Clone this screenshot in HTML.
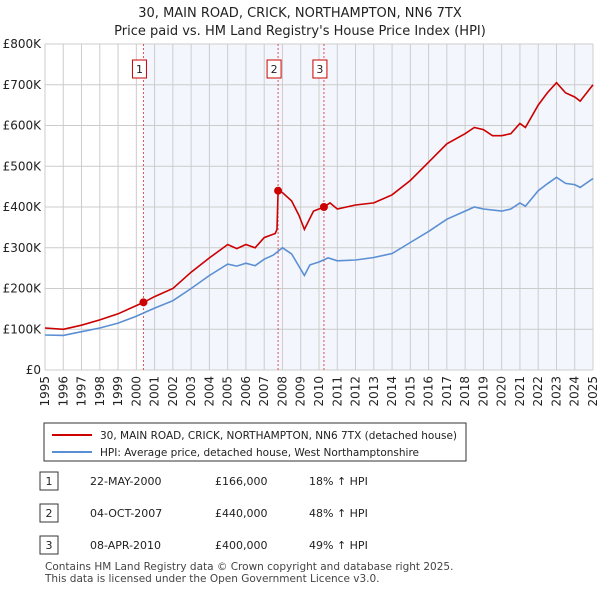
<!DOCTYPE html>
<html><head><meta charset="utf-8"><style>
body{margin:0;background:#fff;font-family:"Liberation Sans","DejaVu Sans",sans-serif;}
#wrap{position:relative;width:600px;height:590px;overflow:hidden;}
svg text{font-family:"DejaVu Sans","Liberation Sans",sans-serif;}
</style></head><body><div id="wrap">
<svg id="c" width="600" height="590">
<text x="300" y="17" text-anchor="middle" font-size="13" fill="#222">30, MAIN ROAD, CRICK, NORTHAMPTON, NN6 7TX</text>
<text x="300" y="35" text-anchor="middle" font-size="13" fill="#222">Price paid vs. HM Land Registry's House Price Index (HPI)</text>
<g id="plot"></g>
<rect x="44" y="423" width="422" height="38" fill="#fff" stroke="#333"/>
<line x1="52" y1="435" x2="92" y2="435" stroke="#cc0000" stroke-width="2"/>
<text x="100" y="439" font-size="10.5" fill="#222">30, MAIN ROAD, CRICK, NORTHAMPTON, NN6 7TX (detached house)</text>
<line x1="52" y1="452" x2="92" y2="452" stroke="#5b8fd4" stroke-width="2"/>
<text x="100" y="456" font-size="10.5" fill="#222">HPI: Average price, detached house, West Northamptonshire</text>
<g id="tbl" font-size="11" fill="#222"></g>
<text x="45" y="570" font-size="10.5" fill="#444">Contains HM Land Registry data © Crown copyright and database right 2025.</text>
<text x="45" y="582" font-size="10.5" fill="#444">This data is licensed under the Open Government Licence v3.0.</text>
</svg>
<script>
const hpiT=[1995,1996,1997,1998,1999,2000,2000.5,2001,2002,2003,2004,2005,2005.5,2006,2006.5,2007,2007.5,2008,2008.5,2009.2,2009.5,2010,2010.5,2011,2012,2013,2014,2015,2016,2017,2018,2018.5,2019,2020,2020.5,2021,2021.3,2022,2022.5,2023,2023.5,2024,2024.3,2025];
const hpiV=[86,85,94,103,115,132,142,152,170,200,232,260,255,262,256,272,282,300,285,232,258,265,275,268,270,276,286,313,340,370,390,400,395,390,395,410,402,440,457,473,458,455,448,470];
const redT=[1995,1996,1997,1998,1999,2000,2000.39,2001,2002,2003,2004,2005,2005.5,2006,2006.5,2007,2007.6,2007.7,2007.76,2008,2008.5,2008.9,2009.2,2009.7,2010.27,2010.6,2011,2012,2013,2014,2015,2016,2017,2018,2018.5,2019,2019.5,2020,2020.5,2021,2021.3,2022,2022.5,2023,2023.5,2024,2024.3,2025];
const redV=[103,100,110,123,138,158,166,180,200,240,275,308,298,308,300,325,335,345,440,435,415,380,345,390,400,410,395,405,410,430,465,510,555,580,595,590,575,575,580,605,595,650,680,705,680,670,660,700];
const saleT=[2000.39,2007.76,2010.27];
const saleV=[166,440,400];
const saleLabels=["1","2","3"];
const saleDates=["22-MAY-2000","04-OCT-2007","08-APR-2010"];
const salePrices=["£166,000","£440,000","£400,000"];
const saleHpi=["18% ↑ HPI","48% ↑ HPI","49% ↑ HPI"];
const yTicks=[0,100,200,300,400,500,600,700,800];
const yLabels=["£0","£100K","£200K","£300K","£400K","£500K","£600K","£700K","£800K"];
const years=[];for(let y=1995;y<=2025;y++)years.push(y);
const X0=45,X1=593,Y0=370,Y1=44;
const sx=t=>X0+(t-1995)*(X1-X0)/30;
const sy=v=>Y0-(v)*(Y0-Y1)/800;
const NS="http://www.w3.org/2000/svg";
const g=document.getElementById('plot');
function mk(tag,at,p){const e=document.createElementNS(NS,tag);for(const k in at)e.setAttribute(k,at[k]);(p||g).appendChild(e);return e;}
let sh=mk('rect',{x:sx(saleT[0]),y:Y1,width:X1-sx(saleT[0]),height:Y0-Y1,fill:'#eef3fc',opacity:0.7});


years.forEach(y=>{let l=mk('line',{x1:sx(y),x2:sx(y),y1:Y1,y2:Y0,stroke:'#ccc'});


let t=mk('text',{x:0,y:0,'font-size':12,fill:'#222','text-anchor':'end',transform:`translate(${sx(y)+4},${Y0+6}) rotate(-90)`});t.textContent=y;

});
yTicks.forEach((v,i)=>{let l=mk('line',{x1:X0,x2:X1,y1:sy(v),y2:sy(v),stroke:'#ccc'});


let t=mk('text',{x:X0-4,y:sy(v)+4,'font-size':12,fill:'#222','text-anchor':'end'});t.textContent=yLabels[i];

});
saleT.forEach((t,i)=>{let l=mk('line',{x1:sx(t),x2:sx(t),y1:Y1,y2:Y0,stroke:'#e05050','stroke-dasharray':'2,2'});


let b=mk('rect',{x:sx(t)-11,y:60,width:14,height:18,fill:'#fff',stroke:'#cc0000'});


let tx=mk('text',{x:sx(t)-4,y:73,'font-size':11,'text-anchor':'middle',fill:'#222'});tx.textContent=saleLabels[i];

});
const path=(T,V)=>T.map((t,i)=>(i?'L':'M')+sx(t).toFixed(1)+','+sy(V[i]).toFixed(1)).join('');
let hp=mk('path',{d:path(hpiT,hpiV),fill:'none',stroke:'#5b8fd4','stroke-width':1.6});


let rp=mk('path',{d:path(redT,redV),fill:'none',stroke:'#cc0000','stroke-width':1.6});


saleT.forEach((t,i)=>{let c=mk('circle',{cx:sx(t),cy:sy(saleV[i]),r:4,fill:'#cc0000'});

});
const tb=document.getElementById('tbl');
saleT.forEach((t,i)=>{const y=481+i*32;
let b=mk('rect',{x:40,y:y-9,width:18,height:18,fill:'#fff',stroke:'#333'},tb);


const cells=[[49,saleLabels[i],'middle'],[90,saleDates[i],'start'],[215,salePrices[i],'start'],[309,saleHpi[i],'start']];
cells.forEach(c=>{let e=mk('text',{x:c[0],y:y+4,'text-anchor':c[2]},tb);e.textContent=c[1];

});});
</script>
</div></body></html>
